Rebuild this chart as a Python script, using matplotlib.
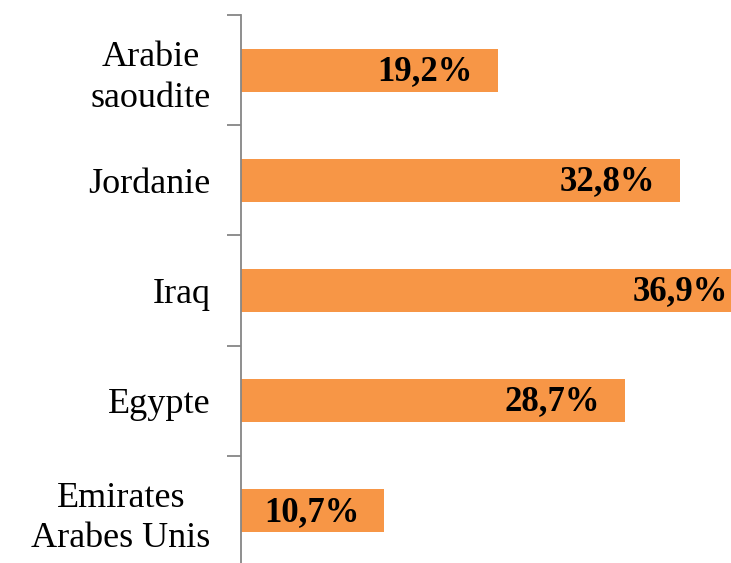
import matplotlib.pyplot as plt

# categories top to bottom
pays = ["Arabie\nsaoudite", "Jordanie", "Iraq", "Egypte", "Emirates\nArabes Unis"]
valeurs = [19.2, 32.8, 36.9, 28.7, 10.7]
etiquettes = ["19,2%", "32,8%", "36,9%", "28,7%", "10,7%"]

plt.rcParams['font.family'] = ['Liberation Serif', 'DejaVu Serif']

fig = plt.figure(figsize=(7.31, 5.63), dpi=100)
ax = fig.add_axes([241/731, -3/563, 490/731, 551/563])

y = list(range(len(pays)))
ax.barh(y, valeurs, height=0.39, color='#F79646', zorder=2)
ax.set_xlim(0, 36.6)
ax.set_ylim(len(pays) - 0.5, -0.5)

for yi, v, lab in zip(y, valeurs, etiquettes):
    xv = min(v, 36.6)
    ax.annotate(lab, (xv, yi), xytext=(-18 if v < 36.6 else -2, -1),
                textcoords='offset points', ha='right', va='center',
                fontsize=25, fontweight='bold', color='black', zorder=3,
                annotation_clip=False)

# category labels between the ticks
ax.set_yticks([i - 0.5 for i in range(len(pays) + 1)])
ax.set_yticklabels([])
ax.set_yticks(y, minor=True)
ax.set_yticklabels(pays, minor=True, fontsize=26, multialignment='center',
                   linespacing=1.3)
ax.tick_params(axis='y', which='major', length=10, color='#868686', width=1.3)
ax.tick_params(axis='y', which='minor', length=0, pad=22)
ax.set_xticks([])

for s in ['top', 'right', 'bottom']:
    ax.spines[s].set_visible(False)
ax.spines['left'].set_color('#868686')
ax.spines['left'].set_linewidth(1.3)

fig.savefig('out.png', dpi=100)
